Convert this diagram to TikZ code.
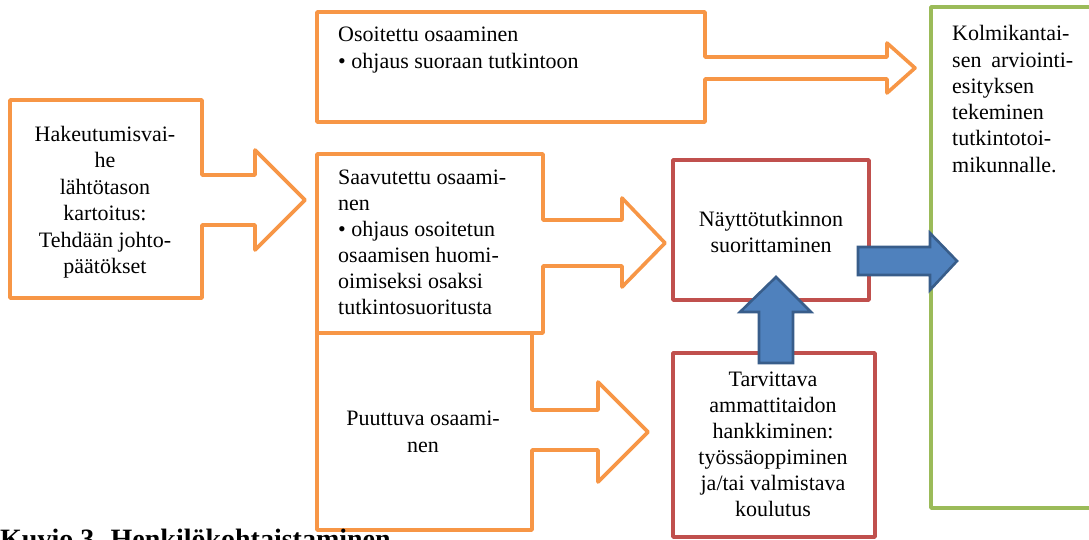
\documentclass[tikz,border=0pt]{standalone}
\usepackage{fontspec}
\setmainfont{Liberation Serif}
\definecolor{offorange}{HTML}{F79646}
\definecolor{offred}{HTML}{C0504D}
\definecolor{offgreen}{HTML}{9BBB59}
\definecolor{offblue}{HTML}{4F81BD}
\definecolor{offblueline}{HTML}{385D8A}
\tikzset{
  orangeshape/.style={draw=offorange,line width=3.6pt,line join=round,fill=white},
  redbox/.style={draw=offred,line width=3.6pt,line join=round,fill=white},
  greenbox/.style={draw=offgreen,line width=3.6pt,line join=round,fill=white},
  bluearrow/.style={draw=offblueline,line width=2.6pt,line join=miter,fill=offblue},
  txt/.style={font=\fontsize{22}{26.5}\selectfont,inner sep=0pt},
}
\begin{document}
\begin{tikzpicture}[x=1pt,y=-1pt]
\useasboundingbox (0,0) rectangle (1089,539);
\clip (0,0) rectangle (1089,539);
% orange callout shapes
\draw[orangeshape] (10,100) -- (202,100) -- (202,175) -- (255,175) -- (255,150) -- (305,200) -- (255,250) -- (255,225) -- (202,225) -- (202,298) -- (10,298) -- cycle;
\draw[orangeshape] (317,12) -- (705,12) -- (705,57) -- (887,57) -- (887,43) -- (915,68) -- (887,93) -- (887,79) -- (705,79) -- (705,122) -- (317,122) -- cycle;
\draw[orangeshape] (317,333) -- (532,333) -- (532,410) -- (598,410) -- (598,382) -- (648,432) -- (598,482) -- (598,450) -- (532,450) -- (532,530) -- (317,530) -- cycle;
\draw[orangeshape] (317,154) -- (543,154) -- (543,220) -- (622,220) -- (622,198) -- (665,243) -- (622,287) -- (622,266) -- (543,266) -- (543,333) -- (317,333) -- cycle;
% red and green boxes
\draw[redbox] (673,160) rectangle (869,300);
\draw[redbox] (673,353) rectangle (875,537);
\draw[greenbox] (931,7) rectangle (1100,508);
% blue arrows
\draw[bluearrow] (759,363) -- (759,312) -- (740,312) -- (776,277) -- (811,312) -- (793,312) -- (793,363) -- cycle;
\draw[bluearrow] (858,247) -- (930,247) -- (930,233) -- (957,261) -- (930,290) -- (930,275) -- (858,275) -- cycle;
% texts
\node[txt,align=center] (hake) at (105,202) {Hakeutumisvai-\\he\\lähtötason\\kartoitus:\\Tehdään johto-\\päätökset};
\node[txt,align=left,anchor=west] (osoit) at (338,50) {Osoitettu osaaminen\\• ohjaus suoraan tutkintoon};
\node[txt,align=left,anchor=west,font=\fontsize{22}{26}\selectfont] (saav) at (338,242) {Saavutettu osaami-\\nen\\• ohjaus osoitetun\\osaamisen huomi-\\oimiseksi osaksi\\tutkintosuoritusta};
\node[txt,align=center] (puut) at (423,432) {Puuttuva osaami-\\nen};
\node[txt,align=center] (nayt) at (771,232) {Näyttötutkinnon\\suorittaminen};
\node[txt,align=center,font=\fontsize{22}{26}\selectfont] (tarv) at (773,444) {Tarvittava\\ammattitaidon\\hankkiminen:\\työssäoppiminen\\ja/tai valmistava\\koulutus};
\node[txt,align=left,anchor=west,font=\fontsize{22}{26.3}\selectfont] (kolmi) at (952,99) {Kolmikantai-\\\hbox to 121pt{sen\hfill arviointi-}\\esityksen\\tekeminen\\tutkintotoi-\\mikunnalle.};
\node[anchor=north west,inner sep=0pt,font=\fontsize{28}{30}\selectfont\bfseries] (caption) at (0,529) {Kuvio 3. Henkilökohtaistaminen};
\end{tikzpicture}
\end{document}
